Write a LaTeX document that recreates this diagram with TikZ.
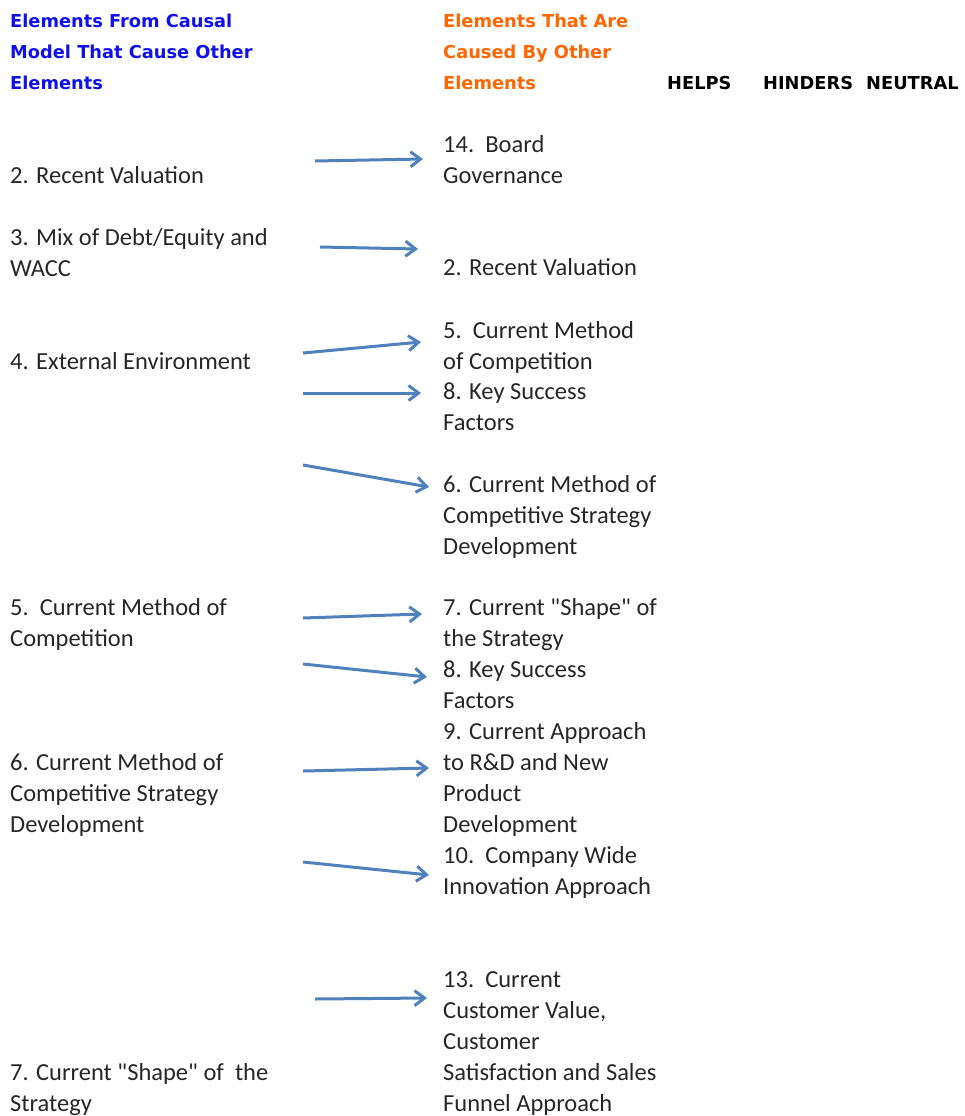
\documentclass[tikz,border=0pt]{standalone}
\usepackage{fontspec}
\setmainfont{Carlito}
\newfontfamily\hdfont{DejaVu Sans}
\usetikzlibrary{arrows.meta}
\definecolor{hdblue}{RGB}{16,16,235}
\definecolor{hdorange}{RGB}{255,102,0}
\definecolor{arrowblue}{RGB}{79,129,189}
\newcommand{\dq}{\textquotedbl}
\tikzset{
  txt/.style={anchor=base west, inner sep=0pt, align=left, font=\fontsize{24.5}{31}\selectfont, text=black!85},
  hdl/.style={anchor=base west, inner sep=0pt, align=left, font=\hdfont\bfseries\fontsize{17.8}{31}\selectfont},
  causal/.style={draw=arrowblue, line width=3pt, -{Straight Barb[length=10pt,width=15pt,line width=3pt]}}
}
\begin{document}
\begin{tikzpicture}[x=1pt,y=-1pt]
\useasboundingbox (0,0) rectangle (965,1116);
% headers (anchors at the baseline of the last line)
\node[hdl, text=hdblue] (hleft) at (10,89) {Elements From Causal\\Model That Cause Other\\Elements};
\node[hdl, text=hdorange] (hright) at (443,89) {Elements That Are\\Caused By Other\\Elements};
\node[hdl] (helps) at (667,89) {HELPS};
\node[hdl] (hinders) at (763,89) {HINDERS};
\node[hdl] (neutral) at (866,89) {NEUTRAL};
% left column
\node[txt] (l2) at (10,183) {2. Recent Valuation};
\node[txt] (l3) at (10,276) {3. Mix of Debt/Equity and\\WACC};
\node[txt] (l4) at (10,369) {4. External Environment};
\node[txt] (l5) at (10,646) {5.\ \ Current Method of\\Competition};
\node[txt] (l6) at (10,832) {6. Current Method of\\Competitive Strategy\\Development};
\node[txt] (l7) at (10,1111) {7. Current \dq Shape\dq\ of\ \ the\\Strategy};
% right column
\node[txt] (r14) at (443,183) {14.\ \ Board\\Governance};
\node[txt] (r2) at (443,275) {2. Recent Valuation};
\node[txt] (r5) at (443,369) {5.\ \ Current Method\\of Competition};
\node[txt] (r8a) at (443,430) {8. Key Success\\Factors};
\node[txt] (r6) at (443,554) {6. Current Method of\\Competitive Strategy\\Development};
\node[txt] (r7) at (443,646) {7. Current \dq Shape\dq\ of\\the Strategy};
\node[txt] (r8b) at (443,708) {8. Key Success\\Factors};
\node[txt] (r9) at (443,832) {9. Current Approach\\to R\&D and New\\Product\\Development};
\node[txt] (r10) at (443,894) {10.\ \ Company Wide\\Innovation Approach};
\node[txt] (r13) at (443,1111) {13.\ \ Current\\Customer Value,\\Customer\\Satisfaction and Sales\\Funnel Approach};
% arrow end points
\coordinate (a1s) at (315,161); \coordinate (a1e) at (423,159);
\coordinate (a2s) at (320,247); \coordinate (a2e) at (418,249);
\coordinate (a3s) at (303,353); \coordinate (a3e) at (421,342);
\coordinate (a4s) at (303,393); \coordinate (a4e) at (421,393);
\coordinate (a5s) at (303,465); \coordinate (a5e) at (429,487);
\coordinate (a6s) at (303,618); \coordinate (a6e) at (422,614);
\coordinate (a7s) at (303,664); \coordinate (a7e) at (427,677);
\coordinate (a8s) at (303,771); \coordinate (a8e) at (429,768);
\coordinate (a9s) at (303,862); \coordinate (a9e) at (429,875);
\coordinate (a10s) at (315,999); \coordinate (a10e) at (427,998);
\foreach \i in {1,...,10} { \draw[causal] (a\i s) -- (a\i e); }
\end{tikzpicture}
\end{document}
